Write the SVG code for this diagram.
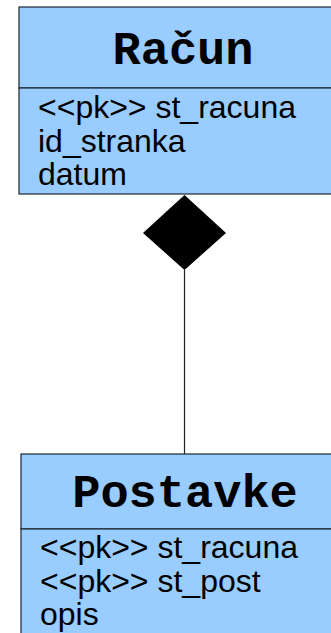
<svg xmlns="http://www.w3.org/2000/svg" width="331" height="633" viewBox="0 0 331 633">
<style>
.box{fill:#99ccff;stroke:#1c2530;stroke-width:1.2}
.title{font-family:"Liberation Mono",monospace;font-weight:bold;font-size:47px;fill:#000;text-anchor:middle}
.attr{font-family:"Liberation Sans",Arial,sans-serif;font-size:32px;fill:#000}
.conn{stroke:#222;stroke-width:1.2;fill:none}
</style>
<rect width="331" height="633" fill="#fff"/>
<g id="connectors">
<line class="conn" x1="184.5" y1="270" x2="184.5" y2="454"/>
<polygon points="184.5,195 226,233 184.5,270 143,233" fill="#000"/>
</g>
<g id="racun">
<rect class="box" x="19" y="7" width="340" height="81"/>
<rect class="box" x="19" y="88" width="340" height="106"/>
<text class="title" x="183" y="64">Račun</text>
<text class="attr" x="38" y="118">&lt;&lt;pk&gt;&gt; st_racuna</text>
<text class="attr" x="38" y="151.5">id_stranka</text>
<text class="attr" x="38" y="185">datum</text>
</g>
<g id="postavke">
<rect class="box" x="21" y="454" width="340" height="75"/>
<rect class="box" x="21" y="529" width="340" height="120"/>
<text class="title" x="185" y="507">Postavke</text>
<text class="attr" x="40" y="558">&lt;&lt;pk&gt;&gt; st_racuna</text>
<text class="attr" x="40" y="591.5">&lt;&lt;pk&gt;&gt; st_post</text>
<text class="attr" x="40" y="625">opis</text>
</g>
</svg>
